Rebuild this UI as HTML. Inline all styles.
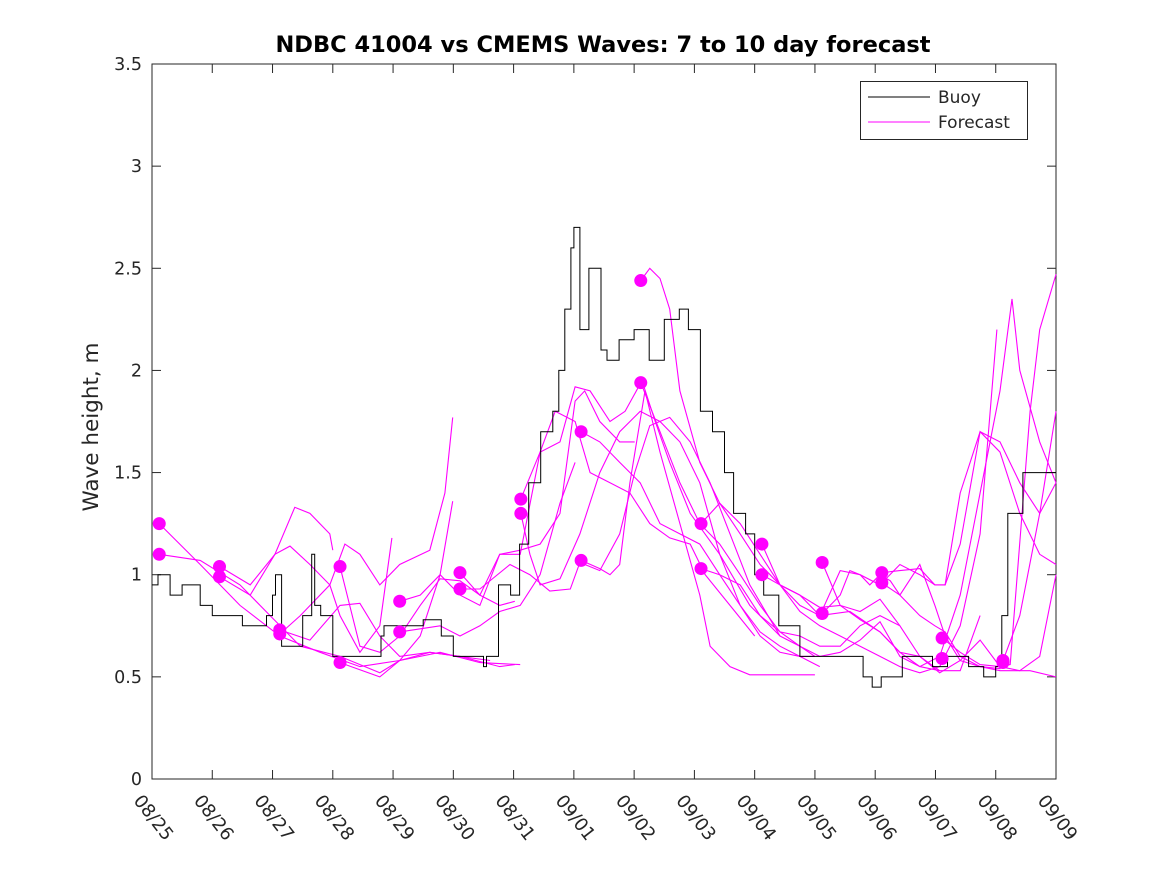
<!DOCTYPE html>
<html><head><meta charset="utf-8"><style>
html,body{margin:0;padding:0;background:#fff;}
svg text{font-family:"DejaVu Sans","Liberation Sans",sans-serif;fill:#262626;}
</style></head><body>
<svg id="chart" width="1167" height="875" viewBox="0 0 1167 875" xmlns="http://www.w3.org/2000/svg">
<rect x="0" y="0" width="1167" height="875" fill="#fff"/>
<rect x="152" y="64" width="904" height="715" fill="#fff" stroke="#262626" stroke-width="1"/>
<g id="grid-ticks"></g>
<g id="forecasts"></g>
<g id="buoy"></g>
<g id="dots"></g>
<text x="603" y="52" font-size="22.5" font-weight="bold" text-anchor="middle" style="fill:#000">NDBC 41004 vs CMEMS Waves: 7 to 10 day forecast</text>
<text transform="translate(98,427) rotate(-90)" font-size="21.5" text-anchor="middle">Wave height, m</text>
<g>
<rect x="860.5" y="81.5" width="167" height="58" fill="#fff" stroke="#262626"/>
<line x1="868" y1="97" x2="930" y2="97" stroke="#000"/>
<text x="938" y="103" font-size="17">Buoy</text>
<line x1="868" y1="122" x2="930" y2="122" stroke="#ff00ff"/>
<text x="938" y="128" font-size="17">Forecast</text>
</g>
</svg>
<script>
const xTickLabels=["08/25","08/26","08/27","08/28","08/29","08/30","08/31","09/01","09/02","09/03","09/04","09/05","09/06","09/07","09/08","09/09"];
const yTicks=[0,0.5,1,1.5,2,2.5,3,3.5];
const yTickLabels=["0","0.5","1","1.5","2","2.5","3","3.5"];
const buoyDays=[0,0.1,0.3,0.5,0.8,1.0,1.5,1.9,2.0,2.05,2.15,2.5,2.65,2.7,2.8,3.0,3.05,3.8,3.85,4.5,4.8,5.0,5.5,5.55,5.75,5.95,6.1,6.25,6.45,6.65,6.75,6.85,6.95,7.0,7.1,7.25,7.45,7.55,7.75,8.0,8.25,8.5,8.75,8.9,9.1,9.3,9.5,9.65,9.85,10.0,10.15,10.4,10.75,11.1,11.8,11.95,12.1,12.25,12.45,12.95,13.2,13.55,13.8,14.0,14.1,14.2,14.45,15.0];
const buoyHeights=[0.95,1.0,0.9,0.95,0.85,0.8,0.75,0.8,0.9,1.0,0.65,0.8,1.1,0.85,0.8,0.6,0.6,0.7,0.75,0.78,0.7,0.6,0.55,0.6,0.95,0.9,1.15,1.45,1.7,1.8,2.0,2.3,2.6,2.7,2.2,2.5,2.1,2.05,2.15,2.2,2.05,2.25,2.3,2.2,1.8,1.7,1.5,1.3,1.2,1.0,0.9,0.75,0.6,0.6,0.5,0.45,0.5,0.5,0.6,0.55,0.6,0.55,0.5,0.55,0.8,1.3,1.5,1.5];
const forecastDays=[
[0.12,0.80,1.46,2.12,2.79,3.45,4.11,4.61,5.11,5.77,6.02],
[0.12,0.80,1.46,1.96,2.46,3.12,3.78,4.11,4.78,5.44,6.11],
[1.12,1.63,2.04,2.37,2.62,2.95,3.0],
[1.12,1.63,2.04,2.29,2.62,2.95,3.12,3.45,3.78,3.98],
[2.12,2.62,3.12,3.45,3.78,4.11,4.61,5.11,5.61],
[2.12,2.46,2.95,3.2,3.45,3.78,4.11,4.61,4.86,4.99],
[3.12,3.45,3.78,4.11,4.45,4.78,5.11,5.44,5.77,6.02],
[3.12,3.78,4.11,4.45,4.78,4.99],
[4.11,4.45,4.78,5.11,5.44,5.77,6.11,6.44,6.77,7.02,7.18,7.43,7.76,8.01],
[4.11,4.78,5.11,5.44,5.77,6.11,6.44,6.77,7.02],
[5.11,5.44,5.77,6.11,6.44,6.69,7.02,7.27,7.6,7.93,8.26,8.59,8.93,9.18,9.59,10.0],
[5.11,5.44,5.94,6.27,6.6,6.94,7.10,7.43,7.76,8.01,8.26,8.59,8.93,9.26,9.59,9.92,10.42],
[6.12,6.44,6.77,7.02,7.27,7.6,7.85,8.13,8.35,8.59,8.93,9.42,9.92,10.42,10.75,11.0],
[6.12,6.27,6.44,6.77,7.10,7.43,7.76,8.10,8.43,8.76,9.09,9.42,9.76,10.09,10.42,10.75,11.0],
[7.12,7.43,7.76,8.10,8.43,8.76,9.09,9.42,9.76,10.09,10.42,10.75,11.08],
[7.12,7.43,7.6,7.76,7.93,8.18,8.43,8.76,9.09,9.26,9.59,9.92,11.0],
[8.11,8.26,8.43,8.59,8.76,9.09,9.42,9.76,10.09,10.42,10.75,11.08,11.42,11.75,12.08,12.41],
[8.11,8.43,8.76,9.09,9.42,9.76,10.09,10.42,10.75,11.08,11.42,11.75,12.08,12.41,12.74,13.07],
[9.11,9.42,9.76,10.09,10.42,10.75,11.08,11.42,11.75,12.08,12.41,12.74,12.99,13.16,13.41,13.74,14.07,14.40,14.73,15.0],
[9.11,9.42,9.76,10.09,10.42,10.75,11.08,11.42,11.75,12.08,12.41,12.74,13.07,13.41,13.74],
[10.12,10.42,10.75,11.08,11.42,11.75,12.08,12.41,12.74,13.07,13.41,13.74,14.02],
[10.12,10.42,10.75,11.08,11.58,12.08,12.41,12.74,13.07,13.41,13.74,14.07,14.27,14.40,14.73,15.0],
[11.12,11.42,11.75,12.08,12.41,12.74,13.07,13.41,13.74,14.07,14.24,14.57,14.73,15.0],
[11.12,11.42,11.58,11.75,11.91,12.08,12.25,12.41,12.74,12.99,13.16,13.41,13.74,14.07,14.57,15.0],
[12.11,12.41,12.74,12.99,13.16,13.41,13.74,14.07,14.40,14.73,15.0],
[12.11,12.41,12.74,12.99,13.16,13.41,13.74,14.07,14.40,14.73,15.0],
[13.11,13.41,13.74,14.07,14.40,14.73,15.0]];
const forecastHeights=[
[1.25,1.05,0.85,0.7,0.62,0.55,0.58,0.62,0.6,0.55,0.56],
[1.1,1.07,0.95,0.8,0.65,0.6,0.52,0.58,0.62,0.57,0.56],
[1.04,0.95,1.1,1.33,1.3,1.2,1.12],
[0.99,0.9,1.1,1.14,1.05,0.95,0.8,0.62,0.75,1.18],
[0.73,0.68,0.85,0.86,0.7,0.6,0.62,0.6,0.58],
[0.71,0.8,0.95,1.15,1.1,0.95,1.05,1.12,1.4,1.77],
[1.04,0.65,0.62,0.7,0.85,0.98,0.97,0.9,0.85,0.87],
[0.57,0.5,0.58,0.7,1.0,1.36],
[0.87,0.9,1.0,0.9,0.85,1.1,1.12,1.15,1.3,1.85,1.9,1.75,1.65,1.65],
[0.72,0.75,0.7,0.75,0.82,0.85,1.0,1.35,1.55],
[1.01,0.9,1.1,1.1,1.6,1.8,1.75,1.5,1.45,1.4,1.25,1.18,1.15,1.0,0.85,0.7],
[0.93,0.93,1.05,1.0,0.92,0.93,1.06,1.02,1.2,1.5,1.73,1.77,1.65,1.45,1.2,0.95,0.7],
[1.37,1.6,1.65,1.92,1.9,1.75,1.8,1.95,1.75,1.55,1.3,1.1,0.85,0.7,0.65,0.6],
[1.30,1.1,0.95,0.98,1.2,1.5,1.7,1.8,1.75,1.65,1.45,1.1,0.85,0.72,0.65,0.6,0.6],
[1.70,1.65,1.55,1.45,1.25,1.2,1.15,1.0,0.85,0.7,0.62,0.6,0.55],
[1.07,1.03,1.0,1.05,1.45,1.9,1.6,1.25,0.9,0.65,0.55,0.51,0.51],
[2.44,2.5,2.45,2.3,1.9,1.55,1.35,1.2,1.05,0.95,0.9,0.84,0.85,0.82,0.88,0.75],
[1.94,1.7,1.45,1.25,1.15,1.0,0.85,0.72,0.65,0.6,0.62,0.68,0.77,0.6,0.55,0.53],
[1.25,1.35,1.25,1.1,0.95,0.9,0.8,1.02,1.0,0.95,1.05,1.0,0.95,0.95,1.15,1.7,1.6,1.3,1.1,1.05],
[1.03,1.0,0.95,0.8,0.72,0.7,0.65,0.65,0.75,0.8,0.75,0.6,0.53,0.53,0.8],
[1.15,0.95,0.82,0.75,0.7,0.65,0.6,0.55,0.52,0.55,0.75,1.2,2.2],
[1.0,0.95,0.85,0.8,0.82,0.72,0.62,0.55,0.6,0.9,1.4,1.9,2.35,2.0,1.65,1.45],
[1.06,0.85,0.78,0.72,0.62,0.6,0.52,0.58,0.68,0.55,0.56,1.8,2.2,2.47],
[0.81,0.9,1.02,1.0,0.95,1.0,0.97,0.9,0.8,0.75,0.72,0.6,0.55,0.53,0.53,0.5],
[1.01,1.02,1.03,0.95,0.95,1.4,1.7,1.65,1.45,1.3,1.45],
[0.96,0.9,1.05,0.85,0.7,0.58,0.55,0.54,0.8,1.3,1.8],
[0.69,0.62,0.56,0.55,0.53,0.6,1.0]];
const dotDays=[0.12,0.12,1.12,1.12,2.12,2.12,3.12,3.12,4.11,4.11,5.11,5.11,6.12,6.12,7.12,7.12,8.11,8.11,9.11,9.11,10.12,10.12,11.12,11.12,12.11,12.11,13.11,13.11,14.12,14.12];
const dotHeights=[1.25,1.1,1.04,0.99,0.73,0.71,1.04,0.57,0.87,0.72,1.01,0.93,1.37,1.30,1.70,1.07,2.44,1.94,1.25,1.03,1.15,1.00,1.06,0.81,1.01,0.96,0.69,0.59,0.58,0.57];

const NS="http://www.w3.org/2000/svg";
const X0=152,X1=1056,Y0=779,Y1=64,DMAX=15,HMAX=3.5;
function xs(d){return X0+(X1-X0)*d/DMAX;}
function ys(h){return Y0-(Y0-Y1)*h/HMAX;}
function mk(tag,attrs,parent){const e=document.createElementNS(NS,tag);for(const k in attrs)e.setAttribute(k,attrs[k]);parent.appendChild(e);return e;}

const tg=document.getElementById('grid-ticks');
xTickLabels.forEach((lab,i)=>{
  const x=xs(i);
  const t1=mk('line',{x1:x,y1:Y0,x2:x,y2:Y0-9,stroke:'#262626'},tg);
  
  
  const t2=mk('line',{x1:x,y1:Y1,x2:x,y2:Y1+9,stroke:'#262626'},tg);
  
  
  const tx=mk('text',{transform:`translate(${x-9},${Y0+14}) rotate(52)`,'font-size':18,'dominant-baseline':'hanging'},tg);
  tx.textContent=lab;
  
  
});
yTicks.forEach((v,i)=>{
  const y=ys(v);
  const a=mk('line',{x1:X0,y1:y,x2:X0+9,y2:y,stroke:'#262626'},tg);
  
  
  const b=mk('line',{x1:X1,y1:y,x2:X1-9,y2:y,stroke:'#262626'},tg);
  
  
  const tx=mk('text',{x:X0-10,y:y+6,'font-size':17.5,'text-anchor':'end'},tg);
  tx.textContent=yTickLabels[i];
  
  
});

const fg=document.getElementById('forecasts');
forecastDays.forEach((ds,i)=>{
  const pts=ds.map((d,j)=>xs(d).toFixed(1)+','+ys(forecastHeights[i][j]).toFixed(1)).join(' ');
  const p=mk('polyline',{points:pts,fill:'none',stroke:'#ff00ff','stroke-width':1.1},fg);
  
  
});

const bg=document.getElementById('buoy');
let bp=[];
buoyDays.forEach((d,i)=>{
  const x=xs(d),y=ys(buoyHeights[i]);
  if(i>0)bp.push(x.toFixed(1)+','+ys(buoyHeights[i-1]).toFixed(1));
  bp.push(x.toFixed(1)+','+y.toFixed(1));
});
const bl=mk('polyline',{points:bp.join(' '),fill:'none',stroke:'#000','stroke-width':1},bg);



const dg=document.getElementById('dots');
dotDays.forEach((d,i)=>{
  const c=mk('circle',{cx:xs(d),cy:ys(dotHeights[i]),r:6.5,fill:'#ff00ff'},dg);
  
  
});
</script>
</body></html>
